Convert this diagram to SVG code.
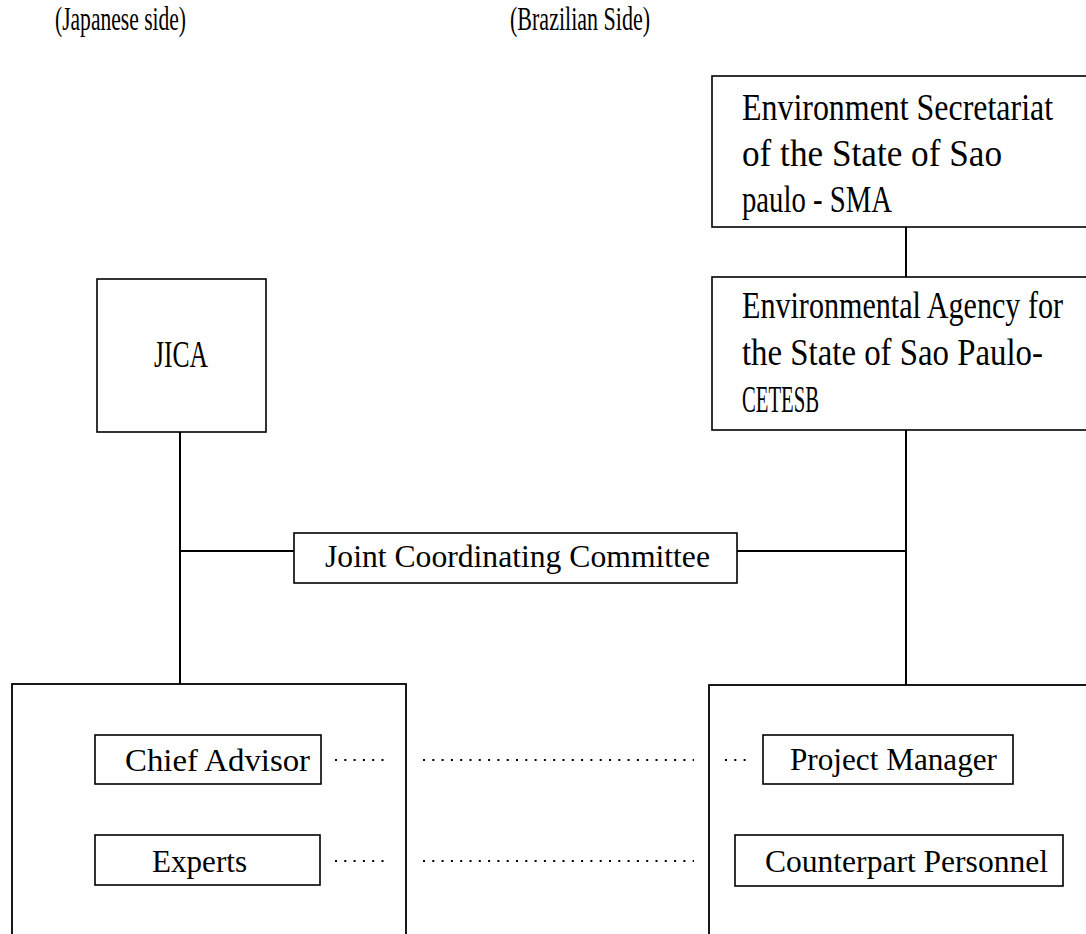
<svg xmlns="http://www.w3.org/2000/svg" width="1086" height="934" viewBox="0 0 1086 934">
<style>
  .box{fill:#fff;stroke:#000;stroke-width:1.6}
  .frame{fill:none;stroke:#000;stroke-width:1.8}
  .t{font-family:"Liberation Serif","Times New Roman",serif;fill:#000}
  .m{font-size:32px}
  .b{font-size:37px}
  .h{font-size:33px}
  .conn line{stroke:#000;stroke-width:2}
  .dots line{stroke:#000;stroke-width:2;stroke-dasharray:2 7.3}
</style>
<rect width="1086" height="934" fill="#fff"/>
<g id="headers">
  <text class="t h" transform="translate(55,30) scale(0.75,1)" textLength="174.7" lengthAdjust="spacingAndGlyphs">(Japanese side)</text>
  <text class="t h" transform="translate(510,30) scale(0.75,1)" textLength="186.7" lengthAdjust="spacingAndGlyphs">(Brazilian Side)</text>
</g>
<g id="japan-team">
  <rect class="frame" x="12" y="684" width="394" height="300"/>
</g>
<g id="brazil-team">
  <rect class="frame" x="709" y="685" width="400" height="300"/>
</g>
<g id="conn" class="conn">
  <line x1="906" y1="227" x2="906" y2="277"/>
  <line x1="906" y1="430" x2="906" y2="685"/>
  <line x1="180" y1="432" x2="180" y2="684"/>
  <line x1="180" y1="551" x2="294" y2="551"/>
  <line x1="737" y1="551" x2="906" y2="551"/>
</g>
<g id="dots" class="dots">
  <line x1="335" y1="760" x2="388" y2="760"/>
  <line x1="423" y1="760" x2="694" y2="760"/>
  <line x1="725" y1="760" x2="749" y2="760"/>
  <line x1="335" y1="861" x2="388" y2="861"/>
  <line x1="423" y1="861" x2="694" y2="861"/>
</g>
<g id="sma">
  <rect class="box" x="712" y="76" width="400" height="151"/>
  <text class="t b" transform="translate(742,120) scale(0.75,1)" textLength="414.7" lengthAdjust="spacingAndGlyphs">Environment Secretariat</text>
  <text class="t b" transform="translate(742,166) scale(0.75,1)" textLength="346.7" lengthAdjust="spacingAndGlyphs">of the State of Sao</text>
  <text class="t b" transform="translate(742,212) scale(0.75,1)" textLength="200" lengthAdjust="spacingAndGlyphs">paulo - SMA</text>
</g>
<g id="cetesb">
  <rect class="box" x="712" y="277" width="400" height="153"/>
  <text class="t b" transform="translate(742,318) scale(0.75,1)" textLength="428" lengthAdjust="spacingAndGlyphs">Environmental Agency for</text>
  <text class="t b" transform="translate(742,365) scale(0.75,1)" textLength="401.3" lengthAdjust="spacingAndGlyphs">the State of Sao Paulo-</text>
  <text class="t b" transform="translate(742,412) scale(0.75,1)" textLength="102.7" lengthAdjust="spacingAndGlyphs">CETESB</text>
</g>
<g id="jica">
  <rect class="box" x="97" y="279" width="169" height="153"/>
  <text class="t b" transform="translate(154,367) scale(0.75,1)" textLength="72" lengthAdjust="spacingAndGlyphs">JICA</text>
</g>
<g id="jcc">
  <rect class="box" x="294" y="533" width="443" height="50"/>
  <text class="t m" transform="translate(325,567) scale(0.75,1)" textLength="513.3" lengthAdjust="spacingAndGlyphs">Joint Coordinating Committee</text>
</g>
<g id="chief-advisor">
  <rect class="box" x="95" y="735" width="226" height="49"/>
  <text class="t m" transform="translate(125,771) scale(0.75,1)" textLength="246.7" lengthAdjust="spacingAndGlyphs">Chief Advisor</text>
</g>
<g id="experts">
  <rect class="box" x="95" y="835" width="225" height="50"/>
  <text class="t m" transform="translate(152,872) scale(0.75,1)" textLength="126.7" lengthAdjust="spacingAndGlyphs">Experts</text>
</g>
<g id="project-manager">
  <rect class="box" x="763" y="735" width="250" height="49"/>
  <text class="t m" transform="translate(790,770) scale(0.75,1)" textLength="276" lengthAdjust="spacingAndGlyphs">Project Manager</text>
</g>
<g id="counterpart">
  <rect class="box" x="735" y="835" width="328" height="51"/>
  <text class="t m" transform="translate(765,872) scale(0.75,1)" textLength="377.3" lengthAdjust="spacingAndGlyphs">Counterpart Personnel</text>
</g>
</svg>
